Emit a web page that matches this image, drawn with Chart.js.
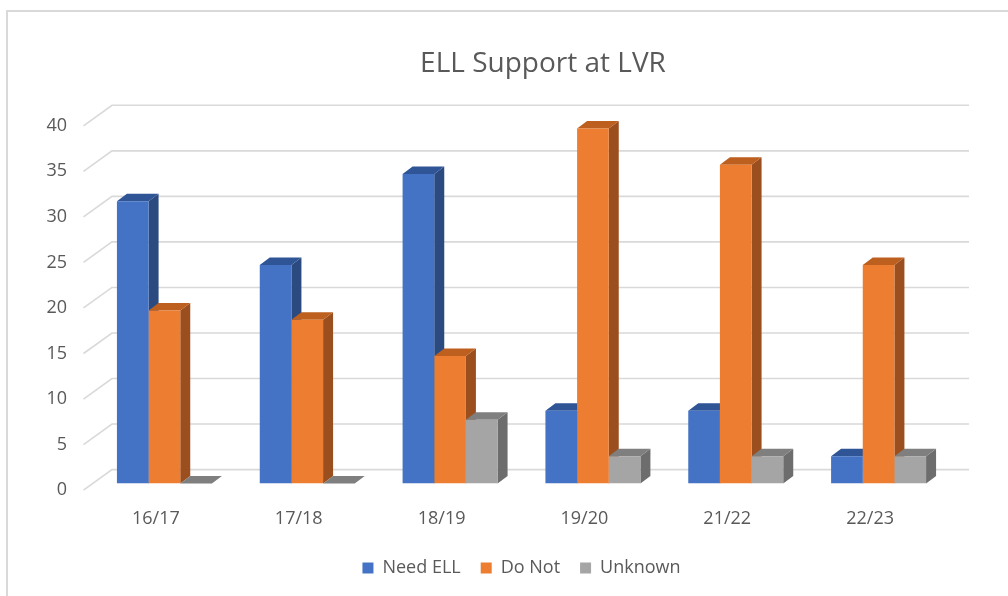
<!DOCTYPE html>
<html>
<head>
<meta charset="utf-8">
<script src="https://cdn.jsdelivr.net/npm/chart.js@4.4.0/dist/chart.umd.min.js"></script>
<style>
html,body{margin:0;padding:0;background:#ffffff;width:1008px;height:596px;overflow:hidden;position:relative;}
#frame{position:absolute;left:6px;top:10px;width:1100px;height:700px;border:2px solid #d9d9d9;}
#c{position:absolute;left:0;top:0;}
</style>
</head>
<body>
<div id="frame"></div>
<canvas id="c" width="1043" height="596"></canvas>
<script>
// ---- data ----
const categories = ['16/17', '17/18', '18/19', '19/20', '21/22', '22/23'];
const needELL = [31, 24, 34, 8, 8, 3];
const doNot = [19, 18, 14, 39, 35, 24];
const unknown = [0, 0, 7, 3, 3, 3];
const seriesNames = ['Need ELL', 'Do Not', 'Unknown'];
const yMin = 0, yMax = 40, yStep = 5;
const chartTitle = 'ELL Support at LVR';

// ---- styles ----
const frontColors = ['#4472C4', '#ED7D31', '#A5A5A5'];
const topColors = ['#2F5597', '#BD5F1F', '#7F7F7F'];
const sideColors = ['#2A4A80', '#9C4F1E', '#6D6D6D'];
const BAR_DEPTH = { dx: 10, dy: 7.5 };
const WALL = { dx: 19, dy: 14 };
const FRONT = { dx: -9.5, dy: 6.5 };

Chart.defaults.font.family = "'Open Sans', 'DejaVu Sans', sans-serif";
Chart.defaults.color = '#595959';

const threeD = {
  id: 'threeD',
  beforeDatasetsDraw(chart) {
    const ctx = chart.ctx;
    const ys = chart.scales.y;
    const area = chart.chartArea;
    ctx.save();
    // back wall gridlines + left side diagonals
    ctx.strokeStyle = '#d9d9d9';
    ctx.lineWidth = 1.6;
    ys.ticks.forEach(t => {
      const py = ys.getPixelForValue(t.value);
      ctx.beginPath();
      ctx.moveTo(area.left + FRONT.dx, py + FRONT.dy);
      ctx.lineTo(area.left + WALL.dx, py - WALL.dy);
      ctx.lineTo(area.right + WALL.dx, py - WALL.dy);
      ctx.stroke();
    });
    // side and top faces of the columns
    chart.data.datasets.forEach((ds, i) => {
      const meta = chart.getDatasetMeta(i);
      meta.data.forEach(bar => {
        const p = bar.getProps(['x', 'y', 'base', 'width'], true);
        const l = p.x - p.width / 2, r = p.x + p.width / 2;
        const top = p.y, base = p.base;
        const dx = BAR_DEPTH.dx, dy = BAR_DEPTH.dy;
        ctx.fillStyle = sideColors[i];
        ctx.beginPath();
        ctx.moveTo(r, top);
        ctx.lineTo(r + dx, top - dy);
        ctx.lineTo(r + dx, base - dy);
        ctx.lineTo(r, base);
        ctx.closePath();
        ctx.fill();
        ctx.fillStyle = topColors[i];
        ctx.beginPath();
        ctx.moveTo(l, top);
        ctx.lineTo(r, top);
        ctx.lineTo(r + dx, top - dy);
        ctx.lineTo(l + dx, top - dy);
        ctx.closePath();
        ctx.fill();
      });
    });
    ctx.restore();
  }
};

const seriesData = [needELL, doNot, unknown];

new Chart(document.getElementById('c'), {
  type: 'bar',
  data: {
    labels: categories,
    datasets: seriesNames.map((name, i) => ({
      label: name,
      data: seriesData[i],
      backgroundColor: frontColors[i],
      borderWidth: 0,
      categoryPercentage: 0.665,
      barPercentage: 1.0
    }))
  },
  options: {
    responsive: false,
    animation: false,
    layout: { padding: { left: 43, right: 0, top: 0, bottom: 9 } },
    plugins: {
      title: {
        display: true,
        text: chartTitle,
        color: '#595959',
        font: { size: 28, weight: 'normal' },
        padding: { top: 46.8, bottom: 38.9 }
      },
      legend: {
        position: 'bottom',
        fullSize: false,
        labels: {
          boxWidth: 11,
          boxHeight: 11,
          padding: 20,
          color: '#595959',
          font: { size: 18 }
        }
      },
      tooltip: { enabled: false }
    },
    scales: {
      x: {
        grid: { display: false, drawTicks: false },
        border: { display: false },
        ticks: { font: { size: 18 }, color: '#595959', padding: 24, labelOffset: -8.5 },
        afterFit(s) { s.height = 55.4; }
      },
      y: {
        min: yMin,
        max: yMax,
        grid: { display: false, drawTicks: false },
        border: { display: false },
        ticks: { stepSize: yStep, font: { size: 18 }, color: '#595959', padding: 26, labelOffset: 6.5 },
        afterFit(s) { s.width = 50; }
      },
      yRight: {
        position: 'right',
        display: true,
        grid: { display: false, drawTicks: false },
        border: { display: false },
        ticks: { display: false },
        afterFit(s) { s.width = 93; }
      }
    }
  },
  plugins: [threeD]
});
</script>
</body>
</html>
